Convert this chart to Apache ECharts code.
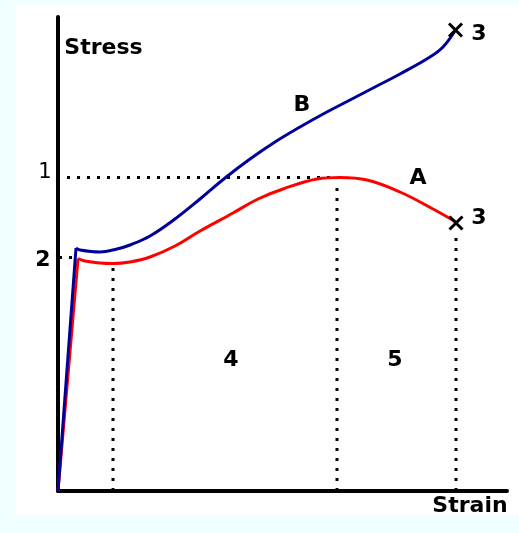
<!DOCTYPE html>
<html>
<head>
<meta charset="utf-8">
<script src="https://cdn.jsdelivr.net/npm/echarts@6/dist/echarts.min.js"></script>
<style>
  html, body { margin: 0; padding: 0; background: #f0ffff; }
  #chart { width: 519px; height: 533px; }
</style>
</head>
<body>
<div id="chart"></div>
<script>
// Stress–strain curves: A (red, necking) and B (blue, strain hardening)
// The first two points are the straight elastic part, the rest is the plastic part.
const curveA = [
  [0, 0], [20, 232.5], [27, 230], [42, 228], [55, 227.5], [72, 229], [92, 234],
  [117, 245], [142, 260], [175, 278], [200, 292], [225, 302], [259, 312],
  [282, 313.5], [309, 311], [342, 299], [375, 282], [398, 269]
];
const curveB = [
  [0, 0], [18, 243], [22, 241], [42, 239], [59, 242], [72, 246], [92, 255],
  [117, 272], [142, 292], [167, 313], [192, 332], [217, 349], [242, 364],
  [267, 378], [292, 391], [317, 404], [342, 417], [372, 434], [385, 444], [397.5, 461]
];
// Fracture points (X)
const fractures = [[397.5, 461], [398, 268]];
// Guide lines: ultimate strength level, yield level, and region bounds
const ultimateLevel = 313.5;
const yieldLevel = 233.5;
const guideLines = [
  [[9, ultimateLevel], [279, ultimateLevel]],
  [[1, yieldLevel], [14, yieldLevel]],
  [[55, 0], [55, 227]],
  [[279, 0], [279, 307]],
  [[398, 0], [398, 260]]
];
// Annotations: [strain, stress, text, bold]
const annotations = [
  [45.5, 443, 'Stress', true],
  [412, -15, 'Strain', true],
  [244, 385.5, 'B', true],
  [360, 313, 'A', true],
  [173, 131, '4', true],
  [337, 131, '5', true],
  [421, 456.5, '3', true],
  [421, 272.5, '3', true],
  [-13, 318, '1', false],
  [-15, 231, '2', true]
];

const chart = echarts.init(document.getElementById('chart'));

const guideSeries = guideLines.map(seg => ({
  type: 'line',
  data: seg,
  symbol: 'none',
  silent: true,
  clip: false,
  lineStyle: { color: '#000', width: 3, type: [3, 7], cap: 'butt' },
  z: 2
}));

function curveSeries(data, color, z) {
  return [
    {
      type: 'line', data: data.slice(0, 2), symbol: 'none', clip: false,
      lineStyle: { color: color, width: 3 }, z: z
    },
    {
      type: 'line', data: data.slice(1), symbol: 'none', clip: false,
      smooth: 0.4,
      lineStyle: { color: color, width: 3 }, z: z
    }
  ];
}

chart.setOption({
  backgroundColor: '#f0ffff',
  animation: false,
  graphic: [{
    type: 'rect',
    shape: { x: 15, y: 5, width: 504, height: 510 },
    style: { fill: '#ffffff' },
    z: -10
  }],
  grid: { left: 58, top: 17, right: 12, bottom: 42 },
  xAxis: {
    type: 'value', min: 0, max: 449,
    axisLine: { lineStyle: { color: '#000', width: 4 } },
    axisTick: { show: false }, axisLabel: { show: false }, splitLine: { show: false }
  },
  yAxis: {
    type: 'value', min: 0, max: 474,
    axisLine: { show: true, lineStyle: { color: '#000', width: 4 } },
    axisTick: { show: false }, axisLabel: { show: false }, splitLine: { show: false }
  },
  series: [
    ...guideSeries,
    ...curveSeries(curveA, '#ff0000', 3),
    ...curveSeries(curveB, '#000099', 4),
    {
      type: 'scatter', data: fractures, clip: false, silent: true,
      symbol: 'path://M0,0 L10,10 M10,0 L0,10',
      symbolSize: 13,
      itemStyle: { color: 'none', borderColor: '#000', borderWidth: 3, opacity: 1 },
      z: 6
    },
    {
      type: 'scatter', clip: false, silent: true, symbolSize: 1,
      itemStyle: { color: 'rgba(0,0,0,0)' },
      data: annotations.map(a => ({
        value: [a[0], a[1]],
        label: {
          show: true, position: 'inside', formatter: a[2],
          fontFamily: 'DejaVu Sans', fontSize: a[3] ? 22 : 21,
          fontWeight: a[3] ? 'bold' : 'normal', color: '#000000',
          textBorderWidth: 0, opacity: 1
        }
      })),
      z: 7
    }
  ]
});
</script>
</body>
</html>
